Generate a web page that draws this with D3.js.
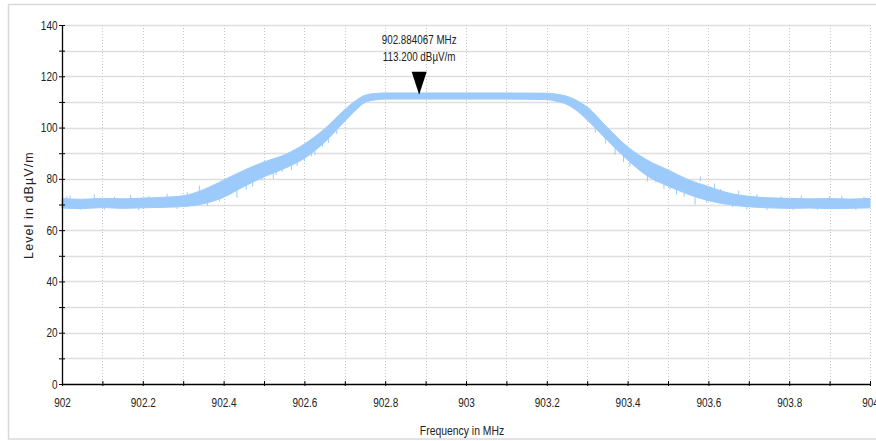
<!DOCTYPE html>
<html>
<head>
<meta charset="utf-8">
<script src="https://cdn.jsdelivr.net/npm/d3@7"></script>
<style>
  html, body { margin: 0; padding: 0; background: #fff; }
  svg { display: block; }
  .lbl { font-family: "Liberation Sans", Arial, sans-serif; fill: #222; }
</style>
</head>
<body>
<svg id="chart" width="876" height="441"></svg>
<script>
// ---- data ----
const freqs = [902.00, 902.05, 902.10, 902.15, 902.20, 902.25, 902.30, 902.35, 902.40, 902.45,
               902.50, 902.55, 902.60, 902.65, 902.70, 902.725, 902.75, 902.775, 902.80, 902.90,
               903.00, 903.10, 903.20, 903.225, 903.25, 903.275, 903.30, 903.35, 903.40, 903.45,
               903.50, 903.55, 903.60, 903.65, 903.70, 903.75, 903.80, 903.85, 903.90, 903.95, 904.00];
const upperLevel = [72.3, 72.0, 72.4, 72.2, 72.5, 72.8, 73.4, 75.8, 79.5, 83.3,
                    86.6, 89.3, 93.6, 99.5, 107.0, 110.3, 112.6, 113.3, 113.5, 113.5,
                    113.5, 113.5, 113.4, 113.0, 112.2, 110.5, 108.0, 100.0, 92.5, 87.2,
                    83.5, 79.7, 77.0, 74.5, 73.2, 72.6, 72.4, 72.2, 72.3, 72.1, 72.4];
const lowerLevel = [68.6, 68.4, 68.8, 68.5, 68.7, 68.9, 69.2, 70.3, 72.8, 77.0,
                    80.8, 84.0, 88.0, 94.3, 102.5, 106.5, 109.8, 110.8, 111.1, 111.1,
                    111.1, 111.1, 110.9, 110.2, 109.0, 106.5, 103.0, 95.0, 87.4, 81.0,
                    77.2, 74.0, 71.5, 70.0, 69.1, 68.7, 68.5, 68.6, 68.4, 68.5, 68.7];
// noise spikes: [frequency, from level, to level]
const spikes = [
  [902.012, 71.5, 73.2], [902.020, 72.0, 73.6], [902.045, 69.0, 67.9], [902.080, 72.0, 73.9],
  [902.105, 69.0, 68.0], [902.130, 71.8, 73.1], [902.170, 72.0, 73.7], [902.190, 69.0, 67.8],
  [902.215, 72.0, 73.3], [902.260, 72.5, 74.2], [902.285, 69.2, 68.2], [902.310, 73.0, 74.8],
  [902.340, 74.5, 77.3], [902.360, 71.0, 69.5], [902.375, 75.0, 77.6], [902.390, 73.0, 71.2],
  [902.415, 78.0, 80.8], [902.433, 76.0, 72.6], [902.456, 79.0, 75.8], [902.472, 80.0, 77.0],
  [902.495, 84.0, 79.5], [902.523, 83.0, 80.0], [902.530, 84.0, 81.5], [902.545, 86.0, 82.8],
  [902.568, 86.0, 83.5], [902.582, 87.0, 85.0], [902.600, 89.0, 86.8], [902.617, 90.0, 88.7],
  [902.626, 91.0, 89.2], [902.645, 95.0, 92.5], [902.660, 96.0, 94.0], [902.680, 100.0, 97.5],
  [903.320, 100.0, 98.0], [903.345, 97.0, 93.8],
  [903.369, 92.0, 89.3], [903.390, 90.0, 86.5], [903.406, 87.0, 84.8], [903.426, 86.0, 84.2],
  [903.449, 82.0, 79.0], [903.470, 81.0, 78.5], [903.490, 79.0, 76.0],
  [903.505, 78.0, 75.8], [903.521, 76.0, 73.9], [903.540, 76.0, 73.0], [903.567, 73.0, 70.0],
  [903.580, 79.0, 81.0], [903.596, 72.5, 70.6], [903.615, 76.5, 78.2], [903.630, 74.5, 76.0],
  [903.660, 71.0, 69.0], [903.675, 74.0, 75.4], [903.695, 70.0, 68.0], [903.720, 72.5, 74.0],
  [903.745, 69.5, 67.9], [903.780, 72.0, 73.2], [903.810, 69.0, 67.8], [903.830, 72.0, 73.5],
  [903.870, 69.0, 68.0], [903.900, 72.0, 73.2], [903.930, 72.0, 73.4], [903.965, 69.0, 67.9],
  [903.985, 72.0, 73.1]
];
const markerFreq = 902.884067;
const markerLevel = 113.2;
const markerLines = ["902.884067 MHz", "113.200 dBµV/m"];
const yTickValues = [0, 10, 20, 30, 40, 50, 60, 70, 80, 90, 100, 110, 120, 130, 140];
const yLabelValues = [0, 20, 40, 60, 80, 100, 120, 140];
const xTickValues = [902, 902.1, 902.2, 902.3, 902.4, 902.5, 902.6, 902.7, 902.8, 902.9, 903,
                     903.1, 903.2, 903.3, 903.4, 903.5, 903.6, 903.7, 903.8, 903.9, 904];
const xLabelValues = [902, 902.2, 902.4, 902.6, 902.8, 903, 903.2, 903.4, 903.6, 903.8, 904];
const xTitle = "Frequency in MHz";
const yTitle = "Level in dBµV/m";

// ---- layout ----
const svg = d3.select("#chart");
const plotLeft = 62, plotTop = 25, plotRight = 870, plotBottom = 384;
const narrow = 0.8;
const x = d3.scaleLinear().domain([902, 904]).range([plotLeft, plotRight]);
const y = d3.scaleLinear().domain([0, 140]).range([plotBottom, plotTop]);

// outer frame
svg.append("rect").attr("x", 8.5).attr("y", 4.5).attr("width", 880).attr("height", 434.5)
  .attr("fill", "none").attr("stroke", "#d9d9d9").attr("stroke-width", 1.5);

// grid
svg.append("g").selectAll("line").data(yTickValues.filter(v => v > 0)).join("line")
  .attr("x1", plotLeft).attr("x2", plotRight)
  .attr("y1", d => Math.round(y(d)) + 0.5).attr("y2", d => Math.round(y(d)) + 0.5)
  .attr("stroke", "#dedede").attr("stroke-width", 1.5);
svg.append("g").selectAll("line").data(xTickValues.filter(v => v > 902)).join("line")
  .attr("x1", d => Math.round(x(d)) + 0.5).attr("x2", d => Math.round(x(d)) + 0.5)
  .attr("y1", plotTop).attr("y2", plotBottom)
  .attr("stroke", "#c8c8c8").attr("stroke-width", 1).attr("stroke-dasharray", "1,2");

// trace band
const idx = d3.range(freqs.length);
const area = d3.area()
  .x(i => x(freqs[i]))
  .y0(i => y(lowerLevel[i]))
  .y1(i => y(upperLevel[i]))
  .curve(d3.curveMonotoneX);
svg.append("path").datum(idx).attr("d", area).attr("fill", "#9ccbfb").attr("stroke", "#9ccbfb").attr("stroke-width", 1);
svg.append("g").selectAll("line").data(spikes).join("line")
  .attr("x1", d => x(d[0])).attr("x2", d => x(d[0]))
  .attr("y1", d => y(d[1])).attr("y2", d => y(d[2]))
  .attr("stroke", "#9ccbfb").attr("stroke-width", 1);

// axes
const yAxis = d3.axisLeft(y).tickValues(yTickValues).tickSize(3).tickSizeOuter(0)
  .tickFormat(d => yLabelValues.includes(d) ? d3.format("d")(d) : "");
const gy = svg.append("g").attr("transform", `translate(${plotLeft},0)`).call(yAxis);
gy.attr("font-family", null).attr("font-size", null);
gy.select(".domain").attr("stroke", "#000").attr("stroke-width", 1.3);
gy.selectAll(".tick line").attr("x2", -3).attr("x1", 3).attr("stroke", "#000");
gy.selectAll(".tick text").attr("class", "lbl").attr("x", -4.5 / narrow).attr("font-size", 12.5)
  .attr("transform", `scale(${narrow},1)`);

const xAxis = d3.axisBottom(x).tickValues(xTickValues).tickSize(3).tickSizeOuter(0)
  .tickFormat(d => xLabelValues.some(v => Math.abs(v - d) < 1e-9) ? d3.format("~g")(d) : "");
const gx = svg.append("g").attr("transform", `translate(0,${plotBottom})`).call(xAxis);
gx.attr("font-family", null).attr("font-size", null);
gx.select(".domain").attr("stroke", "#000").attr("stroke-width", 1.3);
gx.selectAll(".tick line").attr("y1", -3).attr("y2", 2).attr("stroke", "#000");
gx.selectAll(".tick text").attr("class", "lbl").attr("y", 14).attr("font-size", 12.5)
  .attr("transform", `scale(${narrow},1)`);
svg.selectAll(".tick text").attr("fill", "#222");

// titles
svg.append("text").attr("class", "lbl").attr("transform", `translate(462,435) scale(${narrow},1)`)
  .attr("text-anchor", "middle").attr("font-size", 13).text(xTitle);
svg.append("text").attr("class", "lbl").attr("transform", "translate(33,205) rotate(-90)")
  .attr("text-anchor", "middle").attr("font-size", 12.5).attr("letter-spacing", 1.1).text(yTitle);

// marker
const mx = x(markerFreq), my = y(markerLevel);
svg.append("path")
  .attr("d", `M${mx - 7.5},${my - 22} L${mx + 7.5},${my - 22} L${mx},${my + 1} Z`)
  .attr("fill", "#000");
svg.append("g").selectAll("text").data(markerLines).join("text")
  .attr("class", "lbl")
  .attr("transform", (d, i) => `translate(${mx},${my - 50 + i * 17}) scale(0.82,1)`)
  .attr("text-anchor", "middle").attr("font-size", 12).text(d => d);
</script>
</body>
</html>
